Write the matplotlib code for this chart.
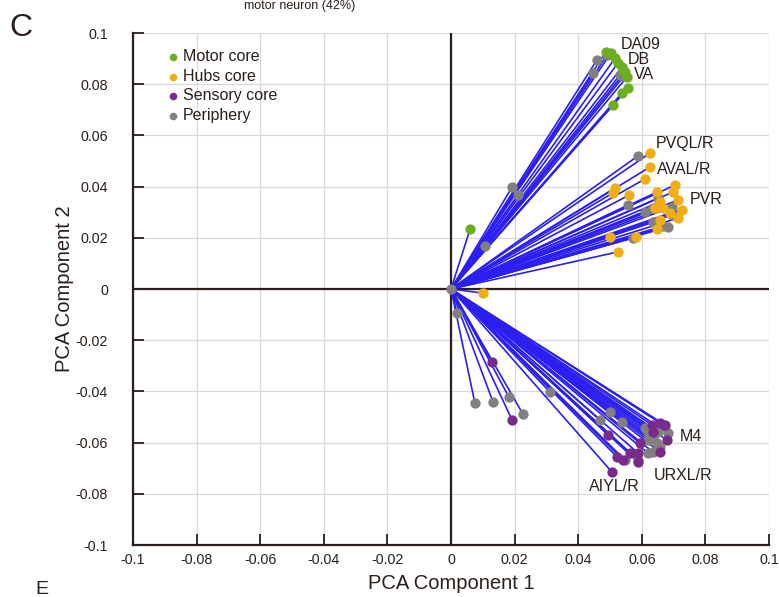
import matplotlib
matplotlib.use("Agg")
import matplotlib.pyplot as plt
import numpy as np

plt.rcParams['font.family'] = ['Liberation Sans', 'DejaVu Sans']

# ---- data ----
motor_x = [0.0503, 0.0516, 0.0525, 0.0538, 0.0547, 0.0553, 0.0557, 0.0538, 0.0509, 0.0487, 0.0060]
motor_y = [0.0922, 0.0902, 0.0883, 0.0867, 0.0848, 0.0828, 0.0785, 0.0766, 0.0719, 0.0926, 0.0234]

hubs_x = [0.0626, 0.0626, 0.0610, 0.0516, 0.0509, 0.0560, 0.0648, 0.0704, 0.0698, 0.0714, 0.0726,
          0.0689, 0.0714, 0.0657, 0.0667, 0.0642, 0.0657, 0.0648, 0.0582, 0.0500, 0.0525, 0.0101]
hubs_y = [0.0531, 0.0477, 0.0430, 0.0395, 0.0375, 0.0367, 0.0379, 0.0406, 0.0379, 0.0348, 0.0309,
          0.0297, 0.0277, 0.0340, 0.0316, 0.0316, 0.0270, 0.0234, 0.0203, 0.0203, 0.0145, -0.0016]

sens_x = [0.0657, 0.0673, 0.0632, 0.0635, 0.0679, 0.0494, 0.0594, 0.0563, 0.0588, 0.0522, 0.0588,
          0.0541, 0.0506, 0.0657, 0.0129, 0.0192]
sens_y = [-0.0523, -0.0531, -0.0531, -0.0559, -0.0590, -0.0570, -0.0602, -0.0641, -0.0641, -0.0656,
          -0.0676, -0.0668, -0.0715, -0.0637, -0.0285, -0.0512]

peri_x = [0.0459, 0.0491, 0.0447, 0.0531, 0.0544,
          0.0588, 0.0557, 0.0610, 0.0635, 0.0651, 0.0695, 0.0695, 0.0635, 0.0667, 0.0682, 0.0572,
          0.0192, 0.0211, 0.0107, 0.0000, 0.0019,
          0.0500, 0.0469, 0.0538, 0.0610, 0.0619, 0.0651, 0.0682, 0.0635, 0.0619, 0.0648, 0.0657,
          0.0635, 0.0619, 0.0547, 0.0588,
          0.0075, 0.0132, 0.0182, 0.0226, 0.0311]
peri_y = [0.0895, 0.0914, 0.0844, 0.0836, 0.0832,
          0.0520, 0.0328, 0.0301, 0.0316, 0.0355, 0.0320, 0.0289, 0.0262, 0.0246, 0.0242, 0.0199,
          0.0398, 0.0367, 0.0168, 0.0000, -0.0094,
          -0.0480, -0.0512, -0.0520, -0.0543, -0.0559, -0.0559, -0.0563, -0.0582, -0.0590, -0.0602, -0.0617,
          -0.0637, -0.0641, -0.0668, -0.0668,
          -0.0445, -0.0441, -0.0422, -0.0488, -0.0402]

tick_vals = [-0.1, -0.08, -0.06, -0.04, -0.02, 0, 0.02, 0.04, 0.06, 0.08, 0.1]
tick_labels = ["-0.1", "-0.08", "-0.06", "-0.04", "-0.02", "0", "0.02", "0.04", "0.06", "0.08", "0.1"]

annot_text = ["DA09", "DB", "VA", "PVQL/R", "AVAL/R", "PVR", "M4", "URXL/R", "AIYL/R"]
annot_x = [0.0535, 0.0555, 0.0575, 0.0645, 0.0648, 0.0752, 0.0720, 0.0638, 0.0435]
annot_y = [0.0955, 0.0897, 0.0838, 0.0570, 0.0465, 0.0351, -0.0575, -0.0730, -0.0770]

# ---- figure ----
fig = plt.figure(figsize=(7.79, 5.97), dpi=100)
ax = fig.add_axes([0.1707, 0.0871, 0.8165, 0.8576])
ax.set_xlim(-0.1, 0.1)
ax.set_ylim(-0.1, 0.1)

dark = "#2a1f1a"
ax.grid(True, color="#d9d9d9", linewidth=0.9, zorder=0)
ax.set_axisbelow(True)
ax.axhline(0, color=dark, linewidth=1.6, zorder=1)
ax.axvline(0, color=dark, linewidth=1.6, zorder=1)

line_color = "#2a1ff0"
all_x = motor_x + hubs_x + sens_x + peri_x
all_y = motor_y + hubs_y + sens_y + peri_y
for x, y in zip(all_x, all_y):
    ax.plot([0, x], [0, y], color=line_color, linewidth=1.2, zorder=2, solid_capstyle='butt')

ms = 55
ax.scatter(peri_x, peri_y, s=ms, color="#808080", zorder=3, linewidths=0)
ax.scatter(motor_x, motor_y, s=ms, color="#6dae1e", zorder=4, linewidths=0)
ax.scatter(hubs_x, hubs_y, s=ms, color="#f0ae14", zorder=4, linewidths=0)
ax.scatter(sens_x, sens_y, s=ms, color="#7a2a8c", zorder=4, linewidths=0)

for t, x, y in zip(annot_text, annot_x, annot_y):
    ax.text(x, y, t, fontsize=11.5, color="#2a1f1a", va='center', ha='left', zorder=5)

# legend
leg_items = [("Motor core", "#6dae1e"), ("Hubs core", "#f0ae14"),
             ("Sensory core", "#7a2a8c"), ("Periphery", "#808080")]
handles = [ax.scatter([], [], s=30, color=c, linewidths=0, label=l) for l, c in leg_items]
leg = ax.legend(handles=handles, loc='upper left', bbox_to_anchor=(0.03, 0.99), frameon=False,
                fontsize=11.5, handletextpad=0.05, labelspacing=0.28, borderpad=0.2, handlelength=1.2,
                labelcolor="#2a1f1a")

ax.set_xticks(tick_vals)
ax.set_xticklabels(tick_labels)
ax.set_yticks(tick_vals)
ax.set_yticklabels(tick_labels)
ax.tick_params(axis='both', direction='in', length=8, width=1.3, color=dark, labelsize=10.3, labelcolor="#2a1f1a")
ax.tick_params(axis='x', pad=6)
ax.tick_params(axis='y', pad=18)

for s in ['top', 'right']:
    ax.spines[s].set_visible(False)
for s in ['left', 'bottom']:
    ax.spines[s].set_color(dark)
    ax.spines[s].set_linewidth(1.6)

ax.set_xlabel("PCA Component 1", fontsize=14.5, color="#2a1f1a", labelpad=5)
ax.set_ylabel("PCA Component 2", fontsize=14.5, color="#2a1f1a", labelpad=1)

fig.text(0.012, 0.953, "C", fontsize=23, color="#2a1f1a", va='center', ha='left')
fig.text(0.045, 0.012, "E", fontsize=14, color="#2a1f1a", va='center', ha='left')
fig.text(0.385, 0.99, "motor neuron (42%)", fontsize=9, color="#2a1f1a", va='center', ha='center')

fig.savefig("out.png", dpi=100)
